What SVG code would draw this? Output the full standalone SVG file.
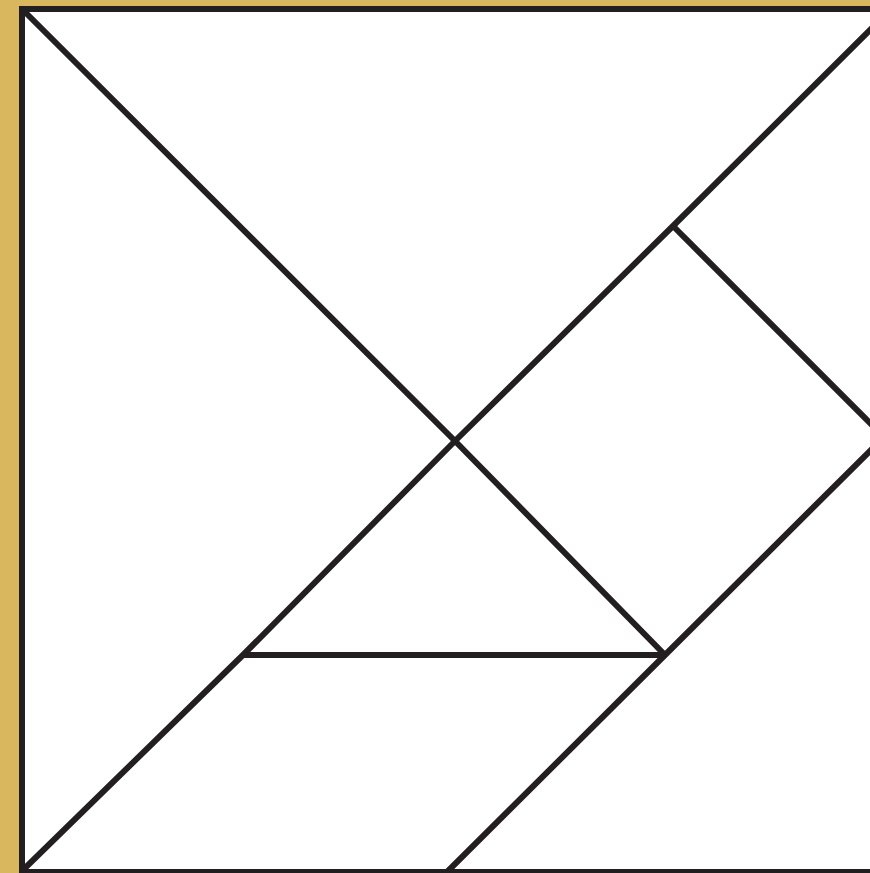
<svg xmlns="http://www.w3.org/2000/svg" width="870" height="873" viewBox="0 0 870 873">
<style>
.ln{fill:none;stroke:#231f20;stroke-width:6;stroke-linejoin:miter;stroke-linecap:butt}
</style>
<rect x="0" y="0" width="870" height="873" fill="#d9b75e"/>
<rect x="19" y="6" width="860" height="870" fill="#ffffff"/>
<g id="tangram">
<rect class="ln" x="22" y="9" width="862" height="863"/>
<polyline class="ln" points="22,9 455,441 665,655"/>
<polyline class="ln" points="22,871 243,655 455,441 673,226 886,14"/>
<polyline class="ln" points="673,226 890,443"/>
<polyline class="ln" points="445,874 665,655 890,431"/>
<polyline class="ln" points="243,655 665,655"/>
</g>
</svg>
